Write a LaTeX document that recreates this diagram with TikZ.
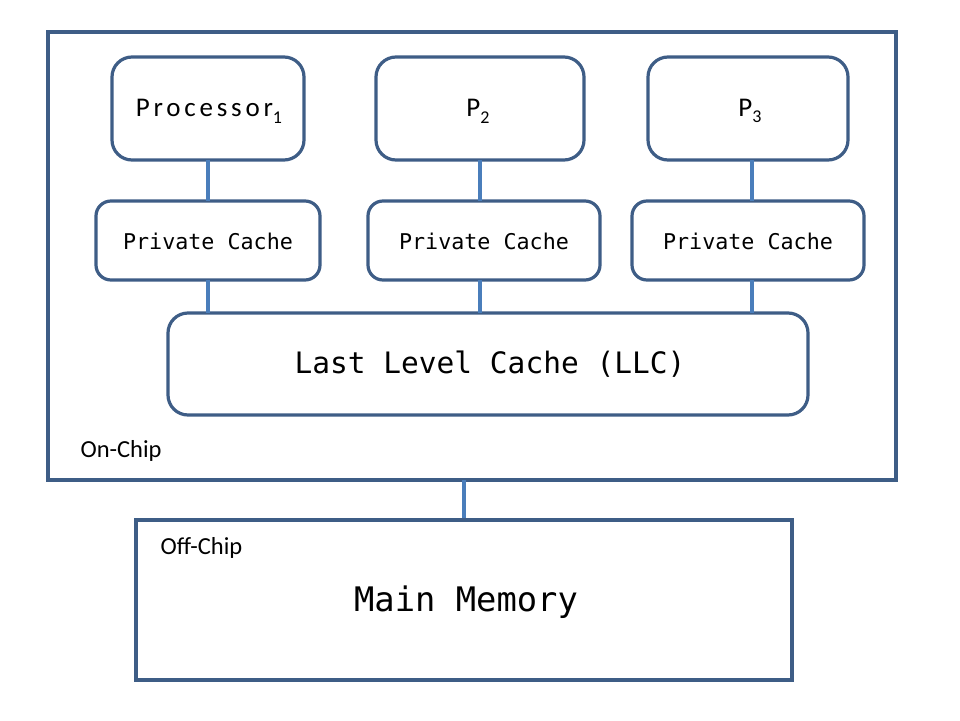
\documentclass[tikz,border=0pt]{standalone}
\usepackage{fontspec}
\setmainfont{Carlito}
\newfontfamily\monof{DejaVu Sans Mono}
\newfontfamily\procf[LetterSpace=14]{Carlito}
\definecolor{boxc}{HTML}{3E5D86}
\definecolor{linec}{HTML}{4A7EBB}
\newcommand{\mysub}[1]{\raisebox{-0.25em}{\fontsize{18}{20}\selectfont #1}}
\begin{document}
\begin{tikzpicture}[x=1pt,y=-1pt,
  boxr/.style={draw=boxc,line width=3.2pt,fill=white,rounded corners=#1},
  conn/.style={draw=linec,line width=3.2pt},
  proctext/.style={font=\procf\fontsize{27}{30}\selectfont},
  pctext/.style={font=\monof\fontsize{21.7}{24}\selectfont},
  lbl/.style={font=\fontsize{24.5}{28}\selectfont,anchor=west}]
\useasboundingbox[fill=white] (0,0) rectangle (960,720);
% on-chip box
\draw[boxr=0pt] (48,32) rectangle (896,480);
\coordinate (onchipS) at (464,480);
% processors
\draw[boxr=20pt] (112,57) rectangle (304,160);
\node[proctext] (p1) at (209,111) {Processor\mysub{1}};
\draw[boxr=20pt] (376,57) rectangle (584,160);
\node[proctext] (p2) at (478,111) {P\mysub{2}};
\draw[boxr=20pt] (648,57) rectangle (848,160);
\node[proctext] (p3) at (750,111) {P\mysub{3}};
% private caches
\draw[boxr=15pt] (96,201) rectangle (320,280);
\node[pctext] (c1) at (208,241) {Private Cache};
\draw[boxr=15pt] (368,201) rectangle (600,280);
\node[pctext] (c2) at (484,241) {Private Cache};
\draw[boxr=15pt] (632,201) rectangle (864,280);
\node[pctext] (c3) at (748,241) {Private Cache};
% LLC
\draw[boxr=20pt] (168,313) rectangle (808,415);
\node[font=\monof\fontsize{29.5}{33}\selectfont] (llc) at (490,364) {Last Level Cache (LLC)};
% connectors
\coordinate (p1s) at (208,160); \coordinate (c1n) at (208,201);
\coordinate (p2s) at (480,160); \coordinate (c2n) at (480,201);
\coordinate (p3s) at (752,160); \coordinate (c3n) at (752,201);
\coordinate (c1s) at (208,280); \coordinate (l1) at (208,313);
\coordinate (c2s) at (480,280); \coordinate (l2) at (480,313);
\coordinate (c3s) at (752,280); \coordinate (l3) at (752,313);
\draw[conn] (p1s) -- (c1n);
\draw[conn] (p2s) -- (c2n);
\draw[conn] (p3s) -- (c3n);
\draw[conn] (c1s) -- (l1);
\draw[conn] (c2s) -- (l2);
\draw[conn] (c3s) -- (l3);
\node[lbl] (onchip) at (77,451) {On-Chip};
% main memory
\coordinate (memN) at (464,520);
\draw[conn] (onchipS) -- (memN);
\draw[boxr=0pt] (136,520) rectangle (792,680);
\node[lbl] (offchip) at (157,548) {Off-Chip};
\node[font=\monof\fontsize{33.8}{38}\selectfont] (mem) at (466,602) {Main Memory};
\end{tikzpicture}
\end{document}
